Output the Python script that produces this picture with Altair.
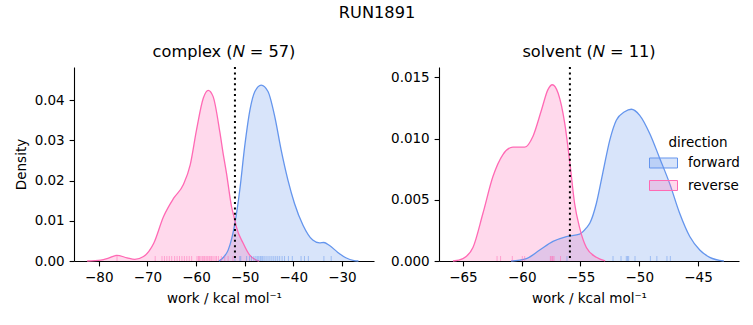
import altair as alt
import pandas as pd

FONT = "DejaVu Sans"
BLUE = "#6495ED"
PINK = "#FF69B4"
BLUE_FILL = "rgba(100,149,237,0.25)"
PINK_FILL = "rgba(255,105,180,0.25)"

# ---- KDE curves (work, density) ----
complex_fwd_x = [-55.3, -54.3, -53.4, -52.0, -51.0, -50.0, -48.9, -47.9, -46.6, -45.2, -43.8,
                 -42.5, -41.1, -39.75, -38.0, -36.0, -34.6, -33.7, -32.6, -30.9, -29.2, -27.5, -26.6]
complex_fwd_y = [0.0, 0.0010, 0.0027, 0.0094, 0.0177, 0.0284, 0.0376, 0.0421, 0.0437, 0.0421, 0.0358,
                 0.0276, 0.0201, 0.0143, 0.0089, 0.0052, 0.0045, 0.0046, 0.0039, 0.0022, 0.0008, 0.0001, 0.0]

complex_rev_x = [-82.4, -79.6, -78.0, -76.3, -74.2, -72.6, -70.8, -68.7, -66.7, -64.6, -62.6, -61.2,
                 -59.9, -58.5, -57.5, -56.5, -55.1, -54.4, -53.75, -52.7, -52.0, -51.7, -50.3, -49.0,
                 -47.6, -47.0]
complex_rev_y = [0.0, 0.0002, 0.0007, 0.0014, 0.0008, 0.0004, 0.0011, 0.0044, 0.0110, 0.0156, 0.0190, 0.0239,
                 0.0326, 0.0405, 0.0424, 0.0409, 0.0320, 0.0265, 0.0219, 0.0135, 0.0101, 0.0085, 0.0044, 0.0015,
                 0.0002, 0.0]

solvent_fwd_x = [-60.9, -59.6, -58.47, -57.34, -56.2, -55.07, -54.5, -54.2, -53.65, -53.1, -52.5, -51.95,
                 -51.24, -50.67, -49.96, -49.1, -48.26, -47.4, -46.56, -45.7, -44.85, -44.0, -42.8]
solvent_fwd_y = [0.0, 0.0002, 0.0009, 0.0016, 0.0020, 0.0022, 0.0027, 0.0031, 0.0047, 0.0072, 0.0099, 0.0115,
                 0.0122, 0.0124, 0.0119, 0.0104, 0.0084, 0.0063, 0.0039, 0.0020, 0.0009, 0.0003, 0.0]

solvent_rev_x = [-65.85, -65.0, -64.15, -63.3, -62.45, -61.6, -60.75, -59.75, -59.04, -58.3, -57.77, -57.4,
                 -56.9, -56.35, -55.9, -55.5, -55.07, -54.5, -53.65, -52.9]
solvent_rev_y = [0.0, 0.0002, 0.0011, 0.0039, 0.0069, 0.0087, 0.0093, 0.0093, 0.0102, 0.0124, 0.0140, 0.0144,
                 0.0137, 0.0113, 0.0080, 0.0047, 0.0027, 0.0011, 0.0003, 0.0]

# ---- rug samples (work values) ----
complex_fwd_rug = [-52.0, -51.0, -50.8, -49.6, -49.0, -48.6, -48.1, -47.7, -47.4, -47.1, -46.8, -46.6,
                   -46.3, -46.0, -45.6, -45.2, -44.8, -44.4, -44.0, -43.6, -43.2, -42.8, -42.3, -41.8,
                   -41.0, -40.2, -38.4, -37.7, -36.9, -33.7, -32.2]
complex_rev_rug = [-76.25, -68.4, -67.0, -66.5, -66.0, -65.5, -65.0, -64.4, -63.9, -63.4, -62.9, -62.4,
                   -61.9, -61.4, -60.9, -59.8, -59.5, -59.3, -59.0, -58.7, -58.4, -58.2, -57.9, -57.6,
                   -57.3, -57.1, -56.8, -56.5, -56.1, -55.8, -55.4, -54.8, -54.1, -53.4, -52.4]
solvent_fwd_rug = [-56.15, -52.23, -51.55, -51.1, -51.0, -50.9, -50.36, -49.05, -48.5, -47.64, -47.35]
solvent_rev_rug = [-62.1, -61.8, -60.8, -59.95, -59.75, -57.56, -57.4, -57.25, -57.5, -56.7, -57.35]

# ---- dotted reference lines ----
complex_vline = -52.0
solvent_vline = -55.9

directions = ["forward", "reverse"]
colors = [BLUE, PINK]
fill_colors = [BLUE_FILL, PINK_FILL]


def curve_df(fx, fy, rx, ry):
    return pd.concat([
        pd.DataFrame({"direction": "forward", "x": fx, "y": fy}),
        pd.DataFrame({"direction": "reverse", "x": rx, "y": ry}),
    ], ignore_index=True)


def rug_df(f, r):
    return pd.concat([
        pd.DataFrame({"direction": "forward", "x": f}),
        pd.DataFrame({"direction": "reverse", "x": r}),
    ], ignore_index=True)


W, H = 300, 194
stroke_scale = alt.Scale(domain=directions, range=colors)
fill_scale = alt.Scale(domain=directions, range=fill_colors)
RECT = "M-2,-0.714H2V0.714H-2Z"


def panel(title, curves, rugs, vline, xdom, xticks, ydom, yticks, yfmt, ytitle, legend):
    xs = alt.Scale(domain=xdom, nice=False, zero=False)
    ys = alt.Scale(domain=ydom, nice=False, zero=False)
    xax = alt.Axis(values=xticks, format="d", title="work / kcal mol⁻¹", titlePadding=7)
    if ytitle:
        yax = alt.Axis(values=yticks, format=yfmt, title="Density", titlePadding=6)
    else:
        yax = alt.Axis(values=yticks, format=yfmt, title=None)
    X = alt.X("x:Q", scale=xs, axis=xax)
    Y = alt.Y("y:Q", scale=ys, axis=yax, stack=None)
    if legend:
        lg = alt.Legend(orient="none", legendX=217, legendY=69, title="direction",
                        titleAnchor="middle", titleFontWeight="normal", titleFontSize=13.5,
                        titleFont=FONT, titlePadding=6, labelFont=FONT, labelFontSize=13.5,
                        labelOffset=17, symbolType=RECT, symbolSize=196, symbolStrokeWidth=1,
                        rowPadding=7.5, labelColor="black", titleColor="black")
    else:
        lg = None
    area = alt.Chart(curves).mark_area(fillOpacity=1, interpolate="monotone").encode(
        x=X, y=Y, fill=alt.Fill("direction:N", scale=fill_scale, legend=lg))
    line = alt.Chart(curves).mark_line(strokeWidth=1.3, interpolate="monotone").encode(
        x=X, y=Y, stroke=alt.Stroke("direction:N", scale=stroke_scale, legend=lg))
    rug = alt.Chart(rugs).mark_rule(strokeWidth=1, opacity=0.5).encode(
        x=alt.X("x:Q", scale=xs), y=alt.value(H - 5), y2=alt.value(H),
        stroke=alt.Stroke("direction:N", scale=stroke_scale, legend=None))
    vl = alt.Chart(pd.DataFrame({"x": [vline]})).mark_rule(
        color="black", strokeWidth=2, strokeDash=[2, 3.4]).encode(
        x=alt.X("x:Q", scale=xs), y=alt.value(0), y2=alt.value(H))
    return alt.layer(area, line, rug, vl).properties(
        width=W, height=H,
        title=alt.TitleParams(title, fontSize=16.2, font=FONT, fontWeight="normal",
                              offset=6, color="black"))


left = panel("complex (𝑁 = 57)", curve_df(complex_fwd_x, complex_fwd_y, complex_rev_x, complex_rev_y),
             rug_df(complex_fwd_rug, complex_rev_rug), complex_vline,
             [-85.1, -23.4], [-80, -70, -60, -50, -40, -30], [0, 0.0482],
             [0, 0.01, 0.02, 0.03, 0.04], ".2f", True, False)
right = panel("solvent (𝑁 = 11)", curve_df(solvent_fwd_x, solvent_fwd_y, solvent_rev_x, solvent_rev_y),
              rug_df(solvent_fwd_rug, solvent_rev_rug), solvent_vline,
              [-67.04, -41.51], [-65, -60, -55, -50, -45], [0, 0.01585],
              [0, 0.005, 0.010, 0.015], ".3f", False, True)

chart = alt.hconcat(left, right, spacing=16).resolve_scale(
    fill="independent", stroke="independent").resolve_legend(
    fill="independent", stroke="independent").properties(
    title=alt.TitleParams("RUN1891", fontSize=16.2, font=FONT, fontWeight="normal",
                          anchor="middle", offset=23, color="black"),
    padding={"left": 14, "top": 4, "right": 5, "bottom": 5},
).configure_view(stroke=None).configure_axis(
    grid=False, domainColor="black", domainWidth=1.1, tickColor="black", tickWidth=1.1,
    tickSize=4.9, labelPadding=4.9, labelFont=FONT, labelFontSize=13.5, labelColor="black",
    titleFont=FONT, titleFontSize=13.5, titleFontWeight="normal", titleColor="black",
).configure_axisX(labelFlush=False)

chart.save("out.html", embed_options={"renderer": "svg", "actions": False})
